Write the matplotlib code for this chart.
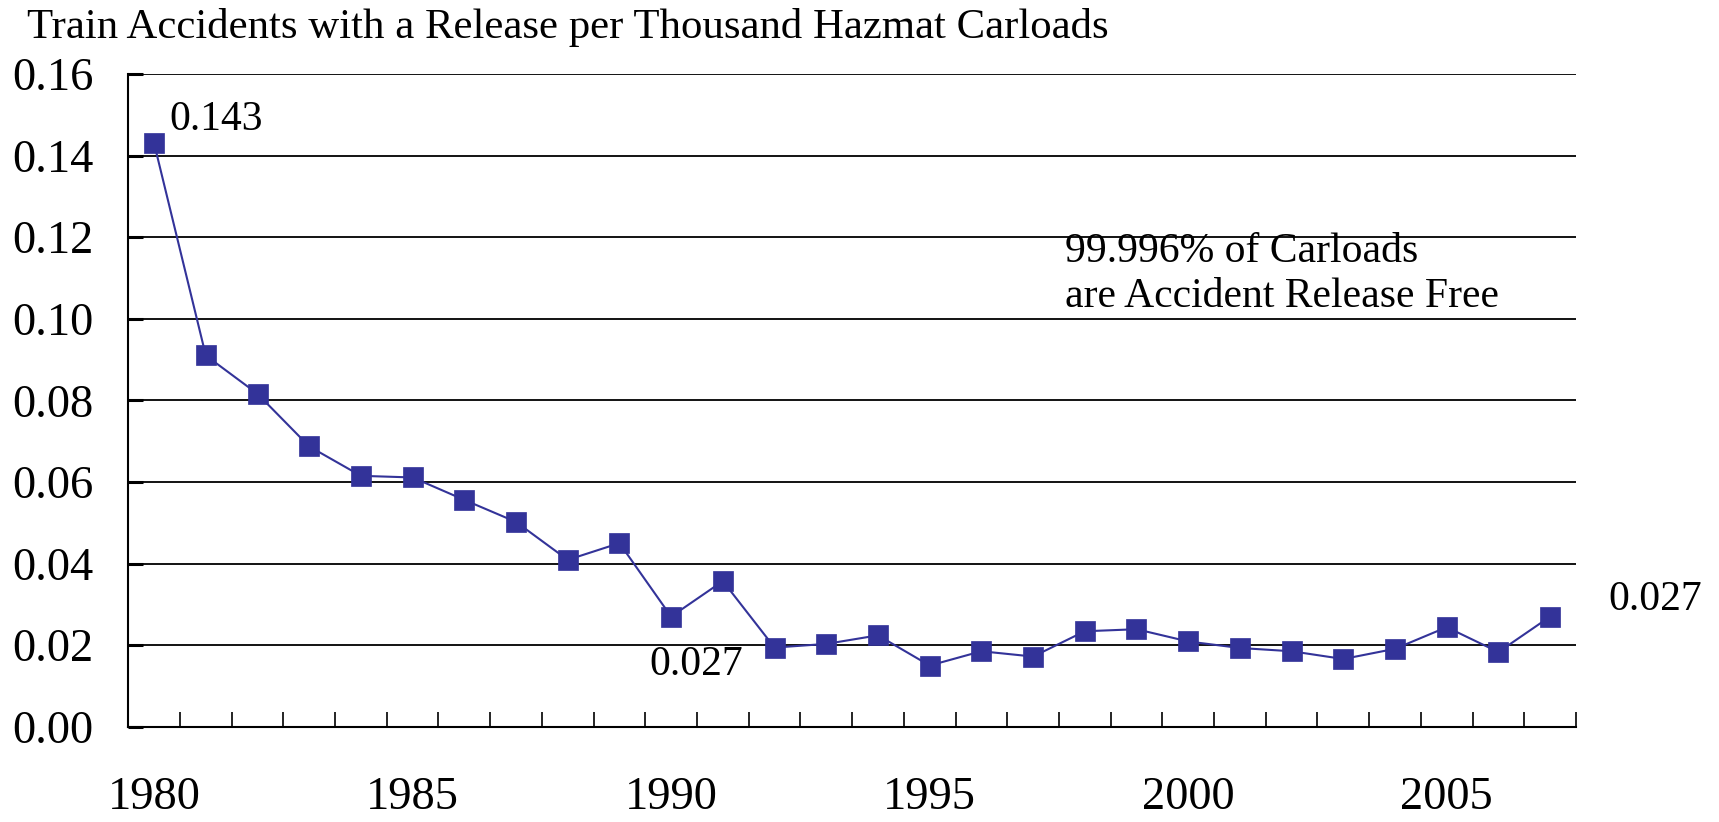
import matplotlib
matplotlib.use("Agg")
import matplotlib.pyplot as plt
from matplotlib.ticker import FixedLocator

plt.rcParams['font.family'] = ['Liberation Serif', 'DejaVu Serif']

years = list(range(1980, 2008))
rates = [0.143, 0.091, 0.0816, 0.0687, 0.0615, 0.0611, 0.0556, 0.0502, 0.0409,
         0.0450, 0.027, 0.0357, 0.0194, 0.0203, 0.0224, 0.0150, 0.0185, 0.0172,
         0.0234, 0.0239, 0.0209, 0.0193, 0.0185, 0.0166, 0.0191, 0.0244, 0.0183,
         0.027]
year_labels = [1980, 1985, 1990, 1995, 2000, 2005]
y_ticks = [0.00, 0.02, 0.04, 0.06, 0.08, 0.10, 0.12, 0.14, 0.16]
title = "Train Accidents with a Release per Thousand Hazmat Carloads"
note = "99.996% of Carloads\nare Accident Release Free"

fig = plt.figure(figsize=(17.19, 8.22), dpi=100)
ax = fig.add_axes([0.0746, 0.1159, 0.8422, 0.7941])

ax.plot(years, rates, color='#333399', lw=1.5, marker='s', ms=15, mew=0.5,
        mfc='#333399', mec='#333399', zorder=3, clip_on=False)

ax.set_xlim(1979.5, 2007.5)
ax.set_ylim(0, 0.16)
ax.set_yticks(y_ticks)
ax.set_yticklabels([f"{v:.2f}" for v in y_ticks], fontsize=33.5)
ax.yaxis.grid(True, color='black', lw=1.3)
ax.set_axisbelow(True)

ax.set_xticks(year_labels)
ax.set_xticklabels([str(y) for y in year_labels], fontsize=33.5)
ax.xaxis.set_minor_locator(FixedLocator([y + 0.5 for y in years]))
ax.tick_params(axis='x', which='major', length=0, pad=36)
ax.tick_params(axis='x', which='minor', direction='in', length=11, width=1.2)
ax.tick_params(axis='y', which='major', direction='in', length=11, width=2.2, pad=25)

for s in ['top', 'right']:
    ax.spines[s].set_visible(False)
ax.spines['left'].set_linewidth(1.5)
ax.spines['bottom'].set_linewidth(1.5)

ax.text(1980.3, 0.1487, "0.143", fontsize=30, ha='left', va='center')
ax.text(1989.58, 0.0153, "0.027", fontsize=30, ha='left', va='center')
ax.text(2008.13, 0.0311, "0.027", fontsize=30, ha='left', va='center', clip_on=False)
ax.text(1997.62, 0.1109, note, fontsize=30, ha='left', va='center', linespacing=1.2)

fig.text(27 / 1719, 1 - 27.4 / 822, title, fontsize=30.8, ha='left', va='center')

fig.savefig("out.png", dpi=100)
